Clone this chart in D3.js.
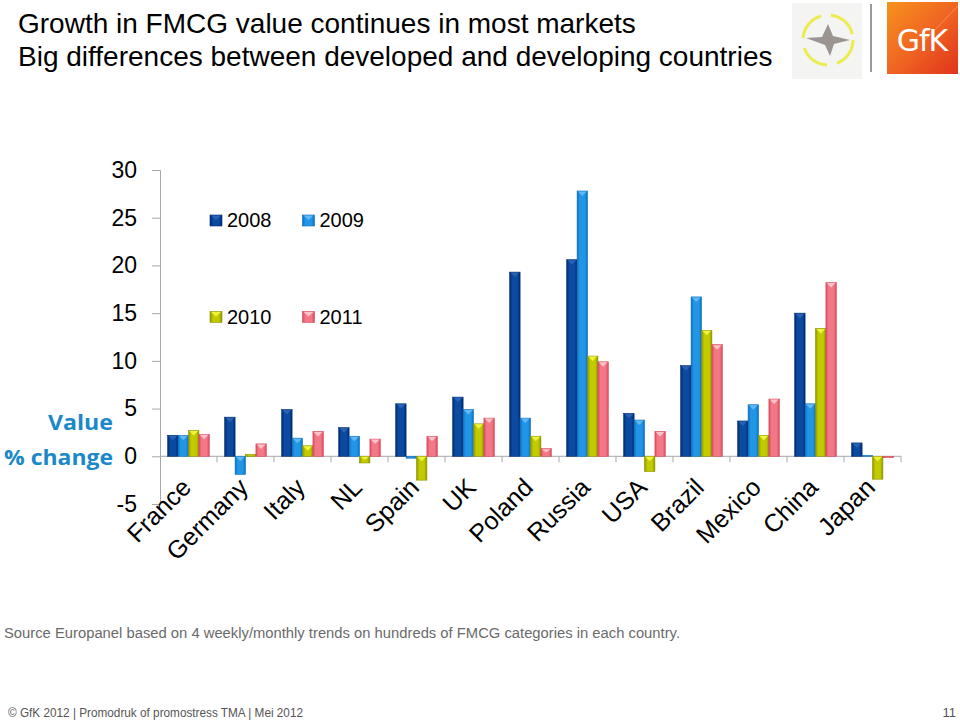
<!DOCTYPE html>
<html><head><meta charset="utf-8">
<script src="https://cdn.jsdelivr.net/npm/d3@7"></script>
<style>body{margin:0;background:#fff} svg{display:block}</style>
</head><body>
<svg id="c" width="960" height="722"></svg>
<script>
const countries = ["France","Germany","Italy","NL","Spain","UK","Poland","Russia","USA","Brazil","Mexico","China","Japan"];
const years = ["2008","2009","2010","2011"];
const v2008 = [2.2,4.1,4.9,3.0,5.5,6.2,19.3,20.6,4.5,9.5,3.7,15.0,1.4];
const v2009 = [2.2,-1.9,1.9,2.1,-0.2,4.9,4.0,27.8,3.8,16.7,5.4,5.5,0.1];
const v2010 = [2.7,0.2,1.1,-0.7,-2.5,3.4,2.1,10.5,-1.6,13.2,2.2,13.4,-2.4];
const v2011 = [2.3,1.3,2.6,1.8,2.1,4.0,0.8,9.9,2.6,11.7,6.0,18.2,-0.15];
const yTicks = [-5,0,5,10,15,20,25,30];
const seriesValues = [v2008, v2009, v2010, v2011];

const palette = {
  "2008": {dark:"#002a6e", base:"#0a4aa0", cap:"#2a62b4"},
  "2009": {dark:"#0a6fc0", base:"#2296e6", cap:"#62b8f2"},
  "2010": {dark:"#8c9400", base:"#c2ca00", cap:"#eef43a"},
  "2011": {dark:"#d84a5c", base:"#f37887", cap:"#fbc2ca"}
};
const FONT = "Liberation Sans, Arial, sans-serif";

const svg = d3.select("#c");
svg.append("rect").attr("width",960).attr("height",722).attr("fill","#fff");

const defs = svg.append("defs");
years.forEach(yr => {
  const p = palette[yr];
  const g = defs.append("linearGradient").attr("id","g"+yr).attr("x1","0").attr("x2","1").attr("y1","0").attr("y2","0");
  g.append("stop").attr("offset","0").attr("stop-color",p.dark);
  g.append("stop").attr("offset","0.25").attr("stop-color",p.base);
  g.append("stop").attr("offset","0.75").attr("stop-color",p.base);
  g.append("stop").attr("offset","1").attr("stop-color",p.dark);
});
const og = defs.append("linearGradient").attr("id","gfk").attr("x1","0").attr("y1","0").attr("x2","1").attr("y2","1");
og.append("stop").attr("offset","0").attr("stop-color","#f7931e");
og.append("stop").attr("offset","0.5").attr("stop-color","#f06522");
og.append("stop").attr("offset","1").attr("stop-color","#e0341c");

// Title
const title = svg.append("g").attr("font-family",FONT).attr("font-size",28).attr("fill","#000");
title.append("text").attr("x",18).attr("y",33).text("Growth in FMCG value continues in most markets");
title.append("text").attr("x",18).attr("y",66).text("Big differences between developed and developing countries");

// Logos
const logo = svg.append("g");
logo.append("rect").attr("x",792).attr("y",3).attr("width",70).attr("height",76).attr("fill","#f4f4f2");
logo.append("circle").attr("cx",828).attr("cy",40).attr("r",25).attr("fill","none")
  .attr("stroke","#ecec50").attr("stroke-width",3).attr("stroke-dasharray","30 10");
logo.append("path").attr("d","M806,38 L822,37 L828,24 L833,36 L850,40 L834,44 L830,56 L825,45 Z")
  .attr("fill","#8a8480").attr("opacity",0.85);
logo.append("line").attr("x1",871).attr("x2",871).attr("y1",4).attr("y2",72).attr("stroke","#9a9a9a").attr("stroke-width",2);
logo.append("rect").attr("x",887).attr("y",2).attr("width",71).attr("height",72).attr("fill","url(#gfk)");
logo.append("line").attr("x1",925).attr("y1",40).attr("x2",958).attr("y2",6).attr("stroke","#f9a86a").attr("stroke-width",1).attr("opacity",0.7);
logo.append("text").attr("x",922).attr("y",51).attr("text-anchor","middle").attr("font-family","DejaVu Sans, sans-serif")
  .attr("font-size",30).attr("fill","#fff").attr("letter-spacing",-1).text("GfK");

// Scales
const x0 = d3.scaleBand().domain(countries).range([160, 901]).paddingInner(0).paddingOuter(0);
const x1 = d3.scaleBand().domain(years).range([0, x0.bandwidth()]).paddingInner(0).paddingOuter(0.74);
const y = d3.scaleLinear().domain([-5, 30]).range([504, 170]);

// Y axis
const yAxis = d3.axisLeft(y).tickValues(yTicks).tickSize(8).tickPadding(15).tickFormat(d => String(d));
const ya = svg.append("g").attr("transform","translate(160,0)").call(yAxis);
ya.select(".domain").attr("stroke","#a8a8a8");
ya.selectAll(".tick line").attr("stroke","#a8a8a8");
ya.selectAll(".tick text").attr("font-family",FONT).attr("font-size",23).attr("fill","#000");

// Category axis at zero
const cat = svg.append("g");
cat.append("line").attr("x1",x0.range()[0]).attr("x2",x0.range()[1]).attr("y1",y(0)).attr("y2",y(0)).attr("stroke","#a8a8a8");
const bounds = countries.map(c => x0(c)).concat([x0.range()[1]]);
cat.selectAll("line.t").data(bounds.slice(1)).join("line").attr("class","t")
  .attr("x1",d=>d).attr("x2",d=>d).attr("y1",y(0)).attr("y2",y(0)+6).attr("stroke","#a8a8a8");

// Bars
years.forEach((yr, si) => {
  const p = palette[yr];
  const vals = seriesValues[si];
  const g = svg.append("g");
  countries.forEach((c, i) => {
    const v = vals[i];
    const bx = x0(c) + x1(yr);
    const bw = x1.bandwidth();
    const top = y(Math.max(0, v));
    const h = Math.abs(y(v) - y(0));
    g.append("rect").attr("x",bx).attr("y",top).attr("width",bw).attr("height",h)
      .attr("fill","url(#g"+yr+")").attr("stroke",p.dark).attr("stroke-width",0.6);
    if (h > 4) {
      const th = Math.min(5, h/2);
      g.append("path").attr("d",`M${bx+0.8},${top+0.5} L${bx+bw-0.8},${top+0.5} L${bx+bw/2},${top+th} Z`).attr("fill",p.cap);
    }
  });
});

// Category labels
svg.append("g").selectAll("text").data(countries).join("text")
  .attr("transform", d => `translate(${x0(d)+x0.bandwidth()/2+4},489) rotate(-45)`)
  .attr("text-anchor","end")
  .attr("font-family",FONT).attr("font-size",25).attr("fill","#000")
  .text(d=>d);

// Legend
const legendPos = [{yr:"2008",x:210,y:227},{yr:"2009",x:302.5,y:227},{yr:"2010",x:210,y:323.5},{yr:"2011",x:302.5,y:323.5}];
const lg = svg.append("g");
legendPos.forEach(l => {
  const p = palette[l.yr];
  lg.append("rect").attr("x",l.x).attr("y",l.y-12).attr("width",12).attr("height",11).attr("fill","url(#g"+l.yr+")").attr("stroke",p.dark).attr("stroke-width",0.6);
  lg.append("path").attr("d",`M${l.x+1},${l.y-11.5} L${l.x+11},${l.y-11.5} L${l.x+6},${l.y-7} Z`).attr("fill",p.cap);
  lg.append("text").attr("x",l.x+17).attr("y",l.y).attr("font-family",FONT).attr("font-size",20).attr("fill","#000").text(l.yr);
});

// Y label
const yl = svg.append("g").attr("font-family","Open Sans, Lato, sans-serif").attr("font-weight","bold").attr("font-size",22).attr("fill","#1c88c8").attr("text-anchor","end");
yl.append("text").attr("x",113).attr("y",430).attr("textLength",65).attr("lengthAdjust","spacingAndGlyphs").text("Value");
yl.append("text").attr("x",113).attr("y",465).attr("textLength",109).attr("lengthAdjust","spacingAndGlyphs").text("% change");

// Footer
svg.append("text").attr("x",4).attr("y",638).attr("font-family",FONT)
  .attr("font-size",14).attr("fill","#6a6a6a").attr("textLength",676).attr("lengthAdjust","spacingAndGlyphs")
  .text("Source Europanel based on 4 weekly/monthly trends on hundreds of FMCG categories in each country.");
svg.append("text").attr("x",8).attr("y",717).attr("font-family",FONT)
  .attr("font-size",13).attr("fill","#555").attr("textLength",295).attr("lengthAdjust","spacingAndGlyphs")
  .text("© GfK 2012 | Promodruk of promostress TMA | Mei 2012");
svg.append("text").attr("x",956).attr("y",717).attr("text-anchor","end").attr("font-family",FONT)
  .attr("font-size",13).attr("fill","#555").text("11");
</script>
</body></html>
